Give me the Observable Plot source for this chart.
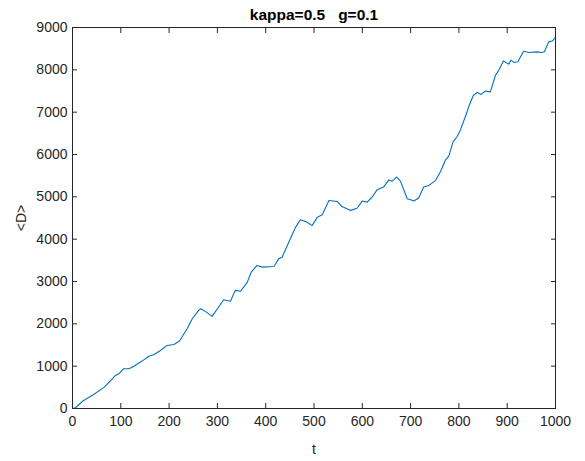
<!DOCTYPE html>
<html>
<head>
<meta charset="utf-8">
<script src="https://cdn.jsdelivr.net/npm/d3@7"></script>
<script src="https://cdn.jsdelivr.net/npm/@observablehq/plot@0.6"></script>
<style>
  html, body { margin: 0; padding: 0; background: #fff; }
  svg { display: block; }
</style>
</head>
<body>
<div id="chart"></div>
<script>
const title = "kappa=0.5\u00a0\u00a0\u00a0g=0.1";
const xLabel = "t";
const yLabel = "<D>";
const xTicks = [0, 100, 200, 300, 400, 500, 600, 700, 800, 900, 1000];
const yTicks = [0, 1000, 2000, 3000, 4000, 5000, 6000, 7000, 8000, 9000];

const tValues = [0, 6, 23, 44, 65, 79, 89, 96, 106, 117, 127, 144, 158, 168, 182, 196, 210, 222, 237, 248, 262, 266,
  278, 289, 300, 313, 327, 337, 348, 362, 370, 382, 393, 417, 427, 434, 451, 462, 472, 486, 496, 507, 517, 531, 548,
  558, 576, 589, 600, 610, 620, 631, 644, 655, 662, 671, 679, 693, 700, 707, 717, 727, 738, 752, 762, 772, 779, 788,
  796, 803, 814, 821, 830, 838, 846, 855, 865, 876, 883, 892, 903, 908, 914, 922, 934, 945, 962, 972, 977, 986, 993, 1000];
const dValues = [0, 17, 190, 330, 500, 660, 780, 820, 940, 940, 1000, 1120, 1235, 1270, 1370, 1490, 1510, 1600, 1880, 2120, 2330, 2355,
  2270, 2175, 2355, 2570, 2535, 2790, 2770, 2985, 3220, 3380, 3340, 3355, 3535, 3575, 4010, 4285, 4460, 4400, 4320, 4520, 4575, 4915, 4890,
  4770, 4680, 4730, 4900, 4875, 4990, 5170, 5230, 5400, 5370, 5465, 5370, 4955, 4930, 4900, 4980, 5230, 5270, 5390, 5600, 5865, 5960, 6300,
  6420, 6575, 6915, 7150, 7400, 7465, 7420, 7500, 7480, 7875, 7995, 8210, 8135, 8230, 8175, 8190, 8440, 8410, 8425, 8410, 8425, 8660, 8680, 8760];

const data = tValues.map((t, i) => ({t, d: dValues[i]}));
const ink = "#262626";
const font = "'Liberation Sans', Arial, Helvetica, sans-serif";
const fmt = d => String(d);

const chart = Plot.plot({
  width: 585,
  height: 461,
  marginLeft: 72,
  marginRight: 30,
  marginTop: 27,
  marginBottom: 53,
  style: {fontFamily: font, fontSize: "14px", color: ink, background: "#fff"},
  x: {domain: [0, 1000]},
  y: {domain: [0, 9000]},
  marks: [
    Plot.line(data, {x: "t", y: "d", stroke: "#0072BD", strokeWidth: 1.1}),
    Plot.frame({stroke: ink, strokeWidth: 1}),
    Plot.axisX(xTicks, {anchor: "bottom", tickSize: -5, text: null, stroke: ink, label: null}),
    Plot.axisX(xTicks, {anchor: "top", tickSize: -5, text: null, stroke: ink, label: null}),
    Plot.axisY(yTicks, {anchor: "left", tickSize: -5, text: null, stroke: ink, label: null}),
    Plot.axisY(yTicks, {anchor: "right", tickSize: -5, text: null, stroke: ink, label: null}),
    Plot.axisX(xTicks, {anchor: "bottom", tickSize: 0, tickPadding: 8, fill: ink, fontSize: 14, tickFormat: fmt,
      label: xLabel, labelAnchor: "center", labelArrow: "none", labelOffset: 45}),
    Plot.axisY(yTicks, {anchor: "left", tickSize: 0, tickPadding: 5, fill: ink, fontSize: 14, tickFormat: fmt,
      label: yLabel, labelAnchor: "center", labelArrow: "none", labelOffset: 56}),
    Plot.text([title], {frameAnchor: "top", lineAnchor: "bottom", dy: -8, fontWeight: "bold", fontSize: 15.5, fill: "#000"})
  ]
});
document.getElementById("chart").appendChild(chart);
</script>
</body>
</html>
